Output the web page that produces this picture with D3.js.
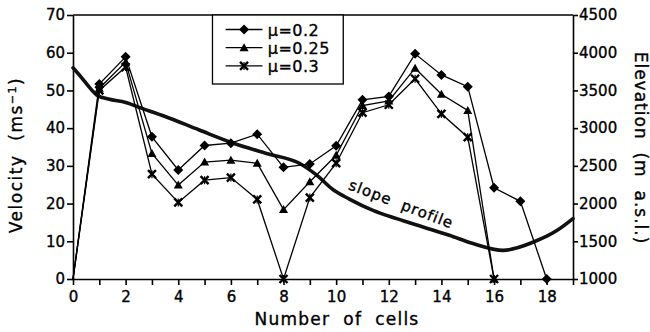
<!DOCTYPE html>
<html>
<head>
<meta charset="utf-8">
<script src="https://cdn.jsdelivr.net/npm/d3@7"></script>
<style>
  body { margin: 0; background: white; }
  svg text { font-family: "DejaVu Sans", sans-serif; fill: black; stroke: black; stroke-width: 0.35; white-space: pre; }
  .axis path, .axis line { stroke: black; stroke-width: 1.6; }
  .serie { fill: none; stroke: black; stroke-width: 1.3; }
  .profil { fill: none; stroke: #111; stroke-width: 3.6; stroke-linecap: round; }
</style>
</head>
<body>
<div id="wykres"></div>
<script>
// number of cells
var cells = d3.range(0, 19);

// velocity series (m/s) per cell
var mu02 = [0, 51.7, 58.9, 37.7, 28.9, 35.4, 36.0, 38.4, 29.6, 30.5, 35.3, 47.5, 48.4, 59.7, 54.1, 51.0, 24.2, 20.6, 0];
var mu025 = [0, 50.6, 57.5, 33.3, 24.9, 31.0, 31.5, 30.7, 18.4, 25.8, 32.8, 46.0, 47.2, 55.9, 49.0, 44.7, 0];
var mu03 = [0, 50.0, 56.2, 27.8, 20.3, 26.2, 26.9, 21.1, 0, 21.6, 30.7, 44.1, 46.2, 53.1, 43.8, 37.6, 0];

// slope profile: cell position, elevation (m a.s.l.)
var profilX = [0, 0.3, 0.65, 0.9, 1.35, 2, 2.6, 3.5, 4.8, 6.1, 7.35, 8.6, 9.25, 9.9, 10.5, 11.4, 12.3, 13.3, 14.3, 15.2, 16.35, 17.5, 18.4, 19];
var profilZ = [3800, 3680, 3530, 3440, 3385, 3340, 3265, 3155, 2975, 2800, 2665, 2535, 2380, 2180, 2060, 1910, 1800, 1690, 1580, 1470, 1380, 1490, 1645, 1800];

var legendLabels = ["\u03bc=0.2", "\u03bc=0.25", "\u03bc=0.3"];
var markers = ["diamond", "triangle", "cross"];
var xTicks = [0, 2, 4, 6, 8, 10, 12, 14, 16, 18];
var yTicks = [0, 10, 20, 30, 40, 50, 60, 70];
var zTicks = [1000, 1500, 2000, 2500, 3000, 3500, 4000, 4500];

var margin = {top: 15, right: 77, bottom: 53, left: 73};
var width = 650 - margin.left - margin.right;
var height = 332 - margin.top - margin.bottom;

var svg = d3.select('#wykres')
  .append("svg")
  .attr("width", width + margin.left + margin.right)
  .attr("height", height + margin.top + margin.bottom)
  .append("g")
  .attr("transform", "translate(" + margin.left + "," + margin.top + ")");

var xscale = d3.scaleLinear().domain([0, 19]).range([0, width]);
var yscale = d3.scaleLinear().domain([0, 70]).range([height, 0]);
var zscale = d3.scaleLinear().domain([1000, 4500]).range([height, 0]);

// axes
var xAxis = svg.append("g").attr("class", "axis")
  .attr("transform", "translate(0," + height + ")")
  .call(d3.axisBottom(xscale).tickValues(d3.range(0, 20)).tickSize(6).tickSizeOuter(0)
    .tickFormat(d => xTicks.indexOf(d) >= 0 ? d : ""));
xAxis.selectAll("text").style("font-size", "15px").attr("dy", "0.9em");

var yAxis = svg.append("g").attr("class", "axis")
  .call(d3.axisLeft(yscale).tickValues(yTicks).tickSize(6).tickSizeOuter(0));
yAxis.selectAll("text").style("font-size", "15px").attr("x", -8);

var zAxis = svg.append("g").attr("class", "axis")
  .attr("transform", "translate(" + width + ",0)")
  .call(d3.axisRight(zscale).tickValues(zTicks).tickSize(5).tickSizeOuter(0).tickFormat(d3.format("d")));
zAxis.selectAll("text").style("font-size", "15px").attr("x", 6);

svg.append("line")
  .attr("x1", 0).attr("x2", width).attr("y1", 0).attr("y2", 0)
  .attr("stroke", "black").attr("stroke-width", 1.6);

// axis titles
svg.append("text")
  .attr("transform", "translate(" + (-51) + "," + (height / 2 + 8) + ")rotate(-90)")
  .attr("text-anchor", "middle")
  .style("font-size", "17px")
  .style("letter-spacing", "1.5px")
  .html('Velocity  (ms<tspan dy="-6" font-size="11px">\u22121</tspan><tspan dy="6">)</tspan>');

svg.append("text")
  .attr("transform", "translate(" + (width + 62) + "," + (height / 2 + 1) + ")rotate(90)")
  .attr("text-anchor", "middle")
  .style("font-size", "17px")
  .style("letter-spacing", "1px")
  .text("Elevation  (m  a.s.l.)");

svg.append("text")
  .attr("x", width / 2 + 14)
  .attr("y", height + 46)
  .attr("text-anchor", "middle")
  .style("font-size", "17px")
  .style("letter-spacing", "1.2px")
  .text("Number  of  cells");

// slope profile
var profil = profilX.map((d, i) => ({x: d, z: profilZ[i]}));
svg.append("path")
  .datum(profil)
  .attr("class", "profil")
  .attr("d", d3.line()
    .x(d => xscale(d.x))
    .y(d => zscale(d.z))
    .curve(d3.curveMonotoneX));

svg.append("text")
  .attr("transform", "translate(" + xscale(12.4) + "," + (zscale(1850) - 6) + ")rotate(21)")
  .attr("text-anchor", "middle")
  .style("font-size", "15px")
  .style("letter-spacing", "1px")
  .text("slope  profile");

// marker drawing
function drawMarker(g, type, cx, cy) {
  if (type == "diamond") {
    g.append("path")
      .attr("d", "M" + cx + "," + (cy - 5) + "L" + (cx + 5) + "," + cy + "L" + cx + "," + (cy + 5) + "L" + (cx - 5) + "," + cy + "Z")
      .attr("fill", "black");
  } else if (type == "triangle") {
    g.append("path")
      .attr("d", "M" + cx + "," + (cy - 4.5) + "L" + (cx + 4.5) + "," + (cy + 3.5) + "L" + (cx - 4.5) + "," + (cy + 3.5) + "Z")
      .attr("fill", "black");
  } else {
    g.append("path")
      .attr("d", "M" + (cx - 4) + "," + (cy - 4) + "L" + (cx + 4) + "," + (cy + 4) + "M" + (cx + 4) + "," + (cy - 4) + "L" + (cx - 4) + "," + (cy + 4))
      .attr("stroke", "black").attr("stroke-width", 2.4);
    g.append("path")
      .attr("d", "M" + cx + "," + (cy - 4) + "L" + cx + "," + (cy + 4))
      .attr("stroke", "black").attr("stroke-width", 1.2);
  }
}

var series = [mu02, mu025, mu03];
series.forEach(function (s, k) {
  var g = svg.append("g");
  g.append("path")
    .datum(s)
    .attr("class", "serie")
    .attr("d", d3.line()
      .x((d, i) => xscale(cells.concat([18])[i]))
      .y(d => yscale(d)));
  s.forEach(function (d, i) {
    if (i == 0) return;
    drawMarker(g, markers[k], xscale(i), yscale(d));
  });
});

// legend
var leg = svg.append("g");
leg.append("rect")
  .attr("x", xscale(5.3)).attr("y", 0)
  .attr("width", xscale(10.27) - xscale(5.3)).attr("height", 69)
  .attr("fill", "white").attr("stroke", "black").attr("stroke-width", 1.3);
legendLabels.forEach(function (t, k) {
  var ly = 14.5 + k * 18.2;
  leg.append("line")
    .attr("x1", xscale(5.8)).attr("x2", xscale(7.2))
    .attr("y1", ly).attr("y2", ly)
    .attr("stroke", "black").attr("stroke-width", 1.3);
  drawMarker(leg, markers[k], xscale(6.5), ly);
  leg.append("text")
    .attr("x", xscale(7.4)).attr("y", ly + 6)
    .style("font-size", "16px")
    .style("letter-spacing", "0.5px")
    .text(t);
});
</script>
</body>
</html>
